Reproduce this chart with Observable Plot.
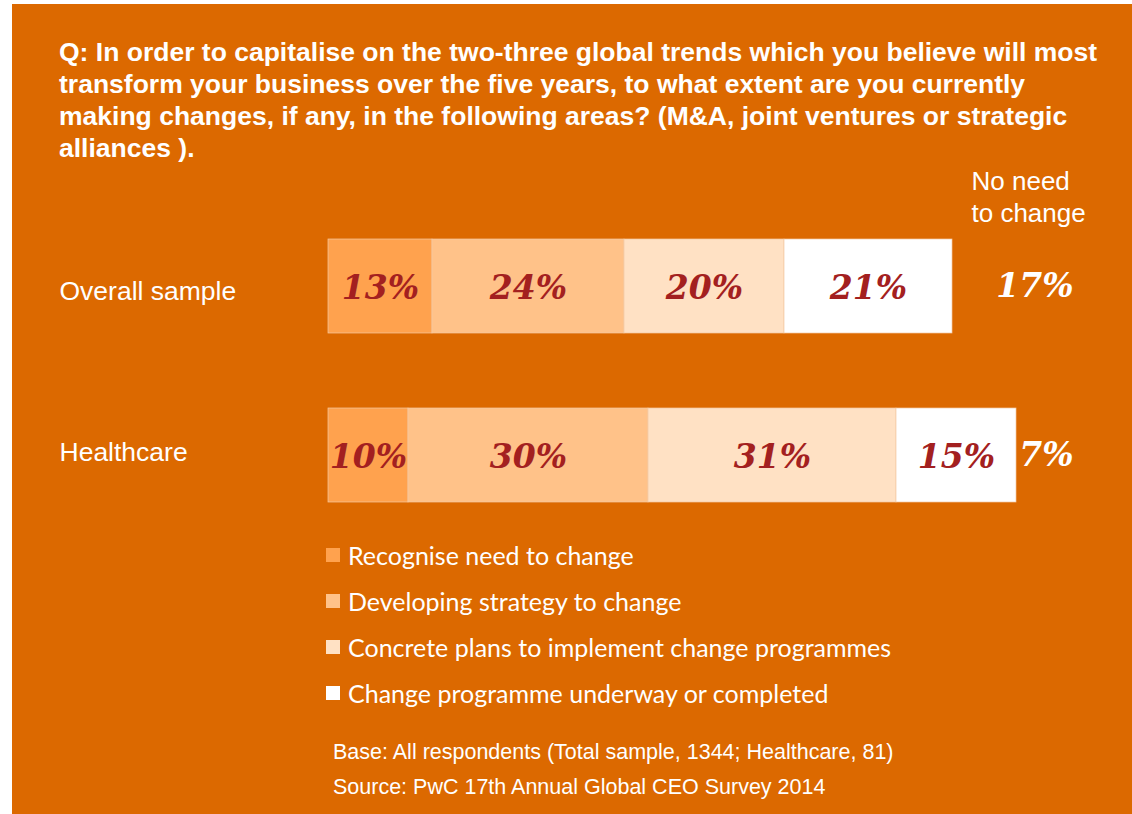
<!DOCTYPE html>
<html>
<head>
<meta charset="utf-8">
<script src="https://cdn.jsdelivr.net/npm/d3@7"></script>
<script src="https://cdn.jsdelivr.net/npm/@observablehq/plot@0.6"></script>
<style>
  html, body { margin: 0; padding: 0; background: #ffffff; }
  #panel { position: absolute; left: 12px; top: 4px; width: 1120px; height: 810px; background: #DC6900; overflow: hidden; }
  #title { position: absolute; left: 47px; top: 32px; width: 1070px; white-space: nowrap; color: #fff; font-family: "Liberation Sans", Arial, sans-serif; font-weight: bold; font-size: 26.5px; line-height: 32px; }
  #chart { position: absolute; left: 0; top: 156px; }
  #legend { position: absolute; left: 314px; top: 528px; font-family: Lato, "Open Sans", sans-serif; font-size: 25px; color: #fff; }
  .lg { height: 46px; display: flex; align-items: center; }
  .sw { width: 14px; height: 14px; margin-right: 8px; flex: none; }
  #footer { position: absolute; left: 321px; top: 731px; font-family: "Liberation Sans", Arial, sans-serif; font-size: 21.5px; line-height: 35px; color: #fff; white-space: nowrap; }
</style>
</head>
<body>
<div id="panel">
  <div id="title"></div>
  <div id="chart"></div>
  <div id="legend"></div>
  <div id="footer"></div>
</div>
<script>
const titleLines = [
  "Q: In order to capitalise on the two-three global trends which you believe will most",
  "transform your business over the five years, to what extent are you currently",
  "making changes, if any, in the following areas? (M&A, joint ventures or strategic",
  "alliances )."
];
const rows = ["Overall sample", "Healthcare"];
const categories = [
  "Recognise need to change",
  "Developing strategy to change",
  "Concrete plans to implement change programmes",
  "Change programme underway or completed"
];
const overallValues = [13, 24, 20, 21];
const healthcareValues = [10, 30, 31, 15];
const noNeedValues = [17, 7];
const noNeedHeader = "No need\nto change";
const colors = ["#FFA24E", "#FFC289", "#FFE1C4", "#FFFFFF"];
const footerLines = [
  "Base: All respondents (Total sample, 1344; Healthcare, 81)",
  "Source: PwC 17th Annual Global CEO Survey 2014"
];

document.getElementById("title").innerHTML = titleLines.map(s => s.replace(/&/g, "&amp;")).join("<br>");

const seriesByRow = [overallValues, healthcareValues];
const data = rows.flatMap((r, i) => seriesByRow[i].map((v, j) => ({row: r, cat: categories[j], value: v})));
const noNeed = rows.map((r, i) => ({row: r, value: noNeedValues[i]}));

const serif = "'DejaVu Serif', 'Liberation Serif', serif";
const sans = "'Liberation Sans', Arial, sans-serif";
const rowLabelStyle = {frameAnchor: "left", dx: -269, textAnchor: "start", fill: "#fff", fontSize: 26.5, fontFamily: sans};

const chart = Plot.plot({
  width: 1120,
  height: 380,
  marginLeft: 316,
  marginRight: 4,
  marginTop: 78,
  marginBottom: 37,
  style: {background: "transparent", overflow: "visible"},
  x: {domain: [0, 100], axis: null},
  y: {domain: rows, paddingInner: 0.441, paddingOuter: 0, axis: null},
  color: {domain: categories, range: colors},
  marks: [
    Plot.barX(data, {x: "value", y: "row", fill: "cat", stroke: "#F3C9A4", strokeWidth: 0.7}),
    Plot.text(data, Plot.stackX({
      x: "value", y: "row", z: "cat",
      text: d => d.value + "%",
      fill: "#A32020", fontSize: 33, fontWeight: "bold", fontStyle: "italic",
      fontFamily: serif, dy: 2
    })),
    Plot.text([rows[0]], {y: d => d, text: d => d, dy: 5, ...rowLabelStyle}),
    Plot.text([rows[1]], {y: d => d, text: d => d, dy: -3, ...rowLabelStyle}),
    Plot.text(noNeed, {
      y: "row", text: d => d.value + "%", frameAnchor: "right", dx: -55, textAnchor: "end",
      fill: "#fff", fontSize: 33, fontWeight: "bold", fontStyle: "italic", fontFamily: serif, dy: 0
    }),
    Plot.text([noNeedHeader], {
      text: d => d, frameAnchor: "top-right", dx: -157, dy: -71, textAnchor: "start", lineAnchor: "top",
      lineHeight: 1.23, fill: "#fff", fontSize: 26, fontFamily: sans
    })
  ]
});
document.getElementById("chart").appendChild(chart);

const legend = document.getElementById("legend");
categories.forEach((c, i) => {
  const row = document.createElement("div");
  row.className = "lg";
  const sw = document.createElement("span");
  sw.className = "sw";
  sw.style.background = colors[i];
  const t = document.createElement("span");
  t.textContent = c;
  row.appendChild(sw); row.appendChild(t);
  legend.appendChild(row);
});

document.getElementById("footer").innerHTML = footerLines.join("<br>");
</script>
</body>
</html>
